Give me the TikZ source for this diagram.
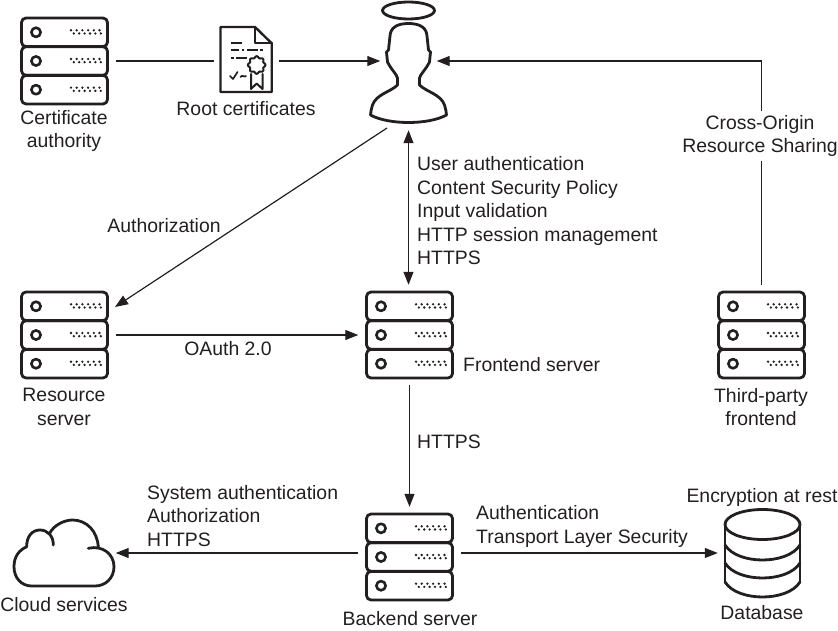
\documentclass[tikz,border=0pt]{standalone}
\usepackage{fontspec}
\setmainfont{Liberation Sans}
\usetikzlibrary{arrows.meta, positioning}
\definecolor{InkLine}{HTML}{231F20}
\newcommand{\serverrack}[3]{% x, y, name
    \node[rackbox] (#3) at (#1,#2) {};
    \begin{scope}[shift={(#1,#2)}]
        \foreach \r in {-28.7,0,28.7} {
            \draw[icon, rounded corners=4.5pt] (-43,\r-14.3) rectangle (43,\r+14.3);
            \draw[icon, line width=2.6pt] (-28.5,\r) circle (4.6pt);
            \foreach \d in {0,1,2,3,4,5} {
                \fill[InkLine] (6.5+\d*5.7,\r-2) circle (1.3pt);
                \fill[InkLine] (9.3+\d*5.4,\r+1.2) circle (1.3pt);
            }
        }
    \end{scope}
}

\begin{document}
\begin{tikzpicture}[
    x=1pt, y=-1pt,
    lbl/.style={font=\fontsize{19.4}{23.5}\selectfont, text=InkLine, align=center, inner sep=0pt, yshift=-1pt},
    lst/.style={lbl, align=left, anchor=west},
    arr/.style={-{Stealth[length=13pt, width=10pt, inset=0pt]}, line width=1.2pt, draw=InkLine},
    wire/.style={line width=1.2pt, draw=InkLine},
    icon/.style={line width=2.8pt, draw=InkLine, line join=round, line cap=round},
    rackbox/.style={minimum width=102pt, minimum height=100pt, inner sep=0pt}
]
\useasboundingbox (0,0) rectangle (838,631);

% ===================================================================
% SERVERS
% ===================================================================
\serverrack{64.5}{61}{authority}
\serverrack{64.5}{335}{resource}
\serverrack{409.5}{335}{frontend}
\serverrack{761.5}{335}{thirdparty}
\serverrack{409.5}{557}{backend}

% ===================================================================
% USER
% ===================================================================
\node[minimum width=56pt, minimum height=138pt, inner sep=0pt] (user) at (408.5,61) {};
\begin{scope}[shift={(408.5,0)}]
    \draw[icon] (0,10.5) ellipse (26pt and 8.5pt);
    \draw[icon, fill=white]
        (0,23.5) .. controls (-12,23.5) and (-18,28) .. (-18.5,36)
        -- (-20,50) -- (-22,52) -- (-21,62)
        .. controls (-17,70) and (-12,74) .. (-11,78)
        -- (-11,85)
        .. controls (-18,92) and (-32,94) .. (-36,105)
        .. controls (-37,109) and (-38,112) .. (-38,115)
        .. controls (-20,125) and (20,125) .. (38,115)
        .. controls (38,112) and (37,109) .. (36,105)
        .. controls (32,94) and (18,92) .. (11,85)
        -- (11,78)
        .. controls (12,74) and (17,70) .. (21,62)
        -- (22,52) -- (20,50) -- (18.5,36)
        .. controls (18,28) and (12,23.5) .. (0,23.5) -- cycle;
\end{scope}
\coordinate (userfoot) at (387,128);
\coordinate (resourcetip) at (115,307);

% ===================================================================
% CERTIFICATE
% ===================================================================
\node[minimum width=65pt, minimum height=72pt, inner sep=0pt] (certificate) at (246.5,61) {};
\begin{scope}[shift={(246.5,61)}]
    \draw[icon, line width=2.4pt] (-26,-34) -- (8.5,-34) -- (25.2,-17.7) -- (25.2,31) -- (-26,31) -- cycle;
    \draw[icon, line width=2.4pt] (8.5,-34) -- (8.5,-17.7) -- (25.2,-17.7);
    \draw[icon, line width=2pt, line cap=butt] (-15.5,-17.7) -- (-5,-17.7);
    \draw[icon, line width=2pt, line cap=butt] (-15.5,-11) -- (-8,-11) (-5,-11) -- (-2.5,-11) (0,-11) -- (11,-11) (13.5,-11) -- (16,-11);
    \draw[icon, line width=2pt, line cap=butt] (-15.5,-2.7) -- (-13,-2.7) (-11,-2.7) -- (0,-2.7);
    \draw[icon, line width=1.7pt] (-16.5,15) -- (-13.5,18) -- (-9,11) (-6,16) .. controls (-4,13) and (-2,17) .. (-0.5,15);
    \draw[icon, line width=2pt] (4.5,13) -- (4.5,28) -- (10.2,22.5) -- (16,28) -- (16,13);
    \draw[icon, line width=2pt, fill=white] plot[domain=0:352, samples=45, smooth cycle]
        ({10.2+(8+0.9*cos(8*\x))*cos(\x)},{4+(8+0.9*cos(8*\x))*sin(\x)});
\end{scope}

% ===================================================================
% CLOUD AND DATABASE
% ===================================================================
\node[minimum width=102pt, minimum height=70pt, inner sep=0pt] (cloud) at (64.5,553) {};
\begin{scope}[shift={(64.5,553)}]
    \draw[icon]
        (23.8,-4.7) .. controls (38,-8) and (49.5,1) .. (49.5,13.7)
        .. controls (49.5,25) and (41,33) .. (30.5,33)
        -- (-32.8,33)
        .. controls (-43,33) and (-50.5,25) .. (-50.5,13.7)
        .. controls (-50.5,3) and (-45,-3) .. (-37.8,-6.3)
        .. controls (-38,-17) and (-32,-23) .. (-24.5,-23)
        .. controls (-17,-23) and (-11,-17) .. (-11.2,-8);
    \draw[icon]
        (-15.2,-19) .. controls (-11,-28) and (0,-33) .. (8,-33)
        .. controls (22,-33) and (33,-22) .. (33.8,-5.7);
\end{scope}
\node[minimum width=88pt, minimum height=92pt, inner sep=0pt] (database) at (762,553) {};
\begin{scope}[shift={(762.5,0)}]
    \draw[icon] (0,524.5) ellipse (37.5pt and 15pt);
    \draw[icon] (-37.5,524.5) -- (-37.5,582) (37.5,524.5) -- (37.5,582);
    \foreach \b in {545,563,582} {
        \draw[icon] (-37.5,\b) .. controls (-25,\b+20) and (25,\b+20) .. (37.5,\b);
    }
\end{scope}

% ===================================================================
% LABELS
% ===================================================================
\node[lbl] (authoritylbl) at (64,130) {Certificate\\authority};
\node[lbl] (certificatelbl) at (246,108) {Root certificates};
\node[lst] (userlist) at (417,210) {User authentication\\Content Security Policy\\Input validation\\HTTP session management\\HTTPS};
\node[lbl] (grantlbl) at (164,225) {Authorization};
\node[lbl] (oauthlbl) at (228,348) {OAuth 2.0};
\node[lst] (frontendlbl) at (463,364) {Frontend server};
\node[lbl] (resourcelbl) at (64,406) {Resource\\server};
\node[lbl] (thirdpartylbl) at (761,406) {Third-party\\frontend};
\node[lst] (httpslbl) at (417,441) {HTTPS};
\node[lst] (systemlist) at (147,515) {System authentication\\Authorization\\HTTPS};
\node[lst] (storelist) at (476,525.5) {Authentication\\Transport Layer Security};
\node[lbl] (encryptionlbl) at (762,496) {Encryption at rest};
\node[lbl] (databaselbl) at (762,612) {Database};
\node[lbl] (backendlbl) at (410,618) {Backend server};
\node[lbl] (cloudlbl) at (64,604) {Cloud services};

% ===================================================================
% CONNECTORS
% ===================================================================
\draw[wire] (authority) -- (certificate);
\draw[arr] (certificate) -- (user);
\draw[arr] (thirdparty.north) -- (thirdparty.north |- user) -- (user);
\node[lbl, fill=white, inner ysep=4pt, inner xsep=1pt] (corslbl) at (760,135) {Cross-Origin\\Resource Sharing};
\draw[arr, {Stealth[length=13pt, width=10pt, inset=0pt]}-{Stealth[length=13pt, width=10pt, inset=0pt]}] (user.south) -- (user.south |- frontend.north);
\draw[arr] (userfoot) -- (resourcetip);
\draw[arr] (resource) -- (frontend);
\draw[arr] (frontend.south) -- (frontend.south |- backend.north);
\draw[arr] (backend.west |- cloud) -- (cloud);
\draw[arr] (backend.east |- database) -- (database);

\end{tikzpicture}
\end{document}
